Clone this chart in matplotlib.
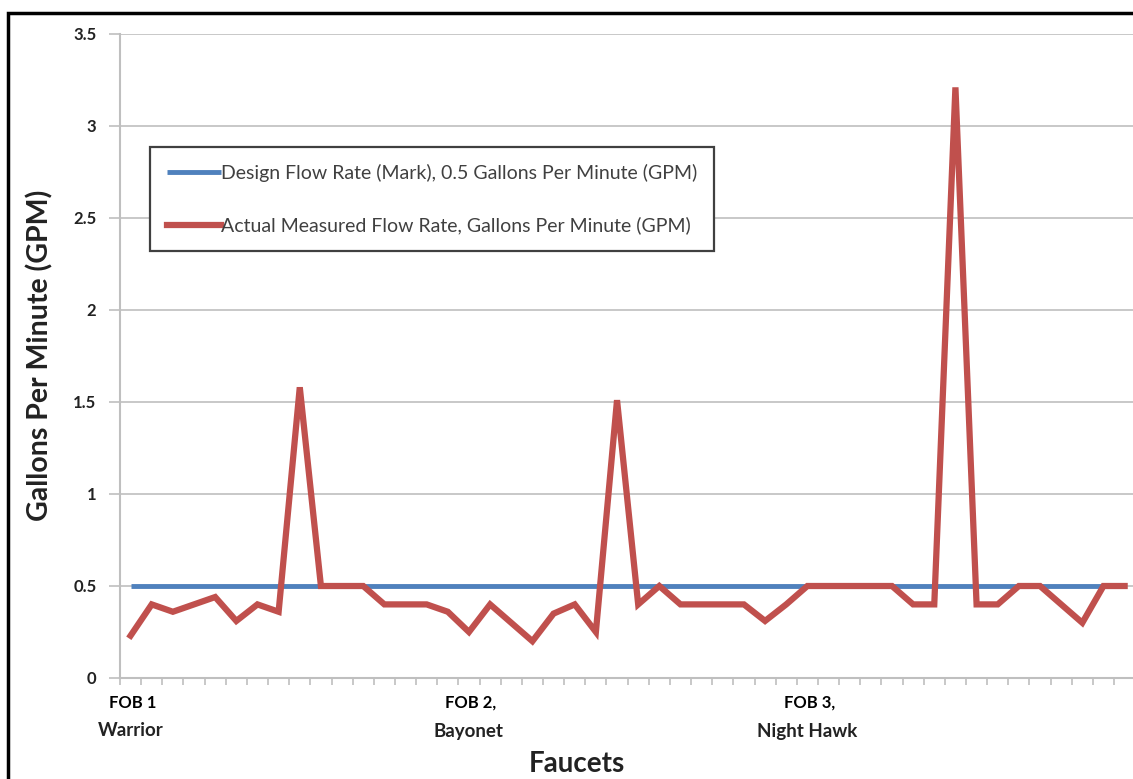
import matplotlib.pyplot as plt
from matplotlib.patches import Rectangle
from matplotlib.ticker import FixedLocator
import matplotlib.transforms as mtransforms

plt.rcParams['font.family'] = ['Lato', 'DejaVu Sans']

# measured flow rate per faucet (GPM), in order along the axis
measured = [0.23, 0.40, 0.36, 0.40, 0.44, 0.31, 0.40, 0.36, 1.58, 0.50,
            0.50, 0.50, 0.40, 0.40, 0.40, 0.36, 0.25, 0.40, 0.30, 0.20,
            0.35, 0.40, 0.25, 1.51, 0.40, 0.50, 0.40, 0.40, 0.40, 0.40,
            0.31, 0.40, 0.50, 0.50, 0.50, 0.50, 0.50, 0.40, 0.40, 3.21,
            0.40, 0.40, 0.50, 0.50, 0.40, 0.30, 0.50, 0.50]
design_rate = 0.5
design = [design_rate] * len(measured)

site_pos = [0, 16, 32]
site_codes = ["FOB 1", "FOB 2,", "FOB 3,"]
site_names = ["Warrior", "Bayonet", "Night Hawk"]

y_ticks = [0, 0.5, 1, 1.5, 2, 2.5, 3, 3.5]
y_labels = ["0", "0.5", "1", "1.5", "2", "2.5", "3", "3.5"]

blue = "#4f81bd"
red = "#c0504d"
grey = "#bfbfbf"

fig = plt.figure(figsize=(11.33, 7.79), dpi=100)
W, H = 1133, 779
ax = fig.add_axes([120 / W, 1 - 678 / H, (W - 120) / W, (678 - 34) / H])

x = list(range(len(measured)))
ax.plot(x, design, color=blue, lw=3.5, solid_capstyle="butt",
        label="Design Flow Rate (Mark), 0.5 Gallons Per Minute (GPM)", zorder=3)
ax.plot(x, measured, color=red, lw=4.5, solid_joinstyle="miter",
        label="Actual Measured Flow Rate, Gallons Per Minute (GPM)", zorder=4)

ax.set_ylim(0, 3.5)
ax.set_xlim(-0.5, -0.5 + (W - 120) / 21.15)
ax.set_yticks(y_ticks)
ax.set_yticklabels(y_labels, fontweight="bold", fontsize=12, color="#222222")
ax.grid(axis="y", color=grey, lw=1.2, zorder=0)
ax.tick_params(axis="y", direction="out", length=8, color=grey, width=1.2, pad=9)

# site names under the axis, two lines each
ax.set_xticks([])
ax.xaxis.set_minor_locator(FixedLocator([i - 0.5 for i in range(len(measured) + 1)]))
ax.tick_params(axis="x", which="minor", direction="out", length=5, color=grey, width=1.2)
trans = mtransforms.blended_transform_factory(ax.transData, fig.transFigure)
for pos, code, name in zip(site_pos, site_codes, site_names):
    ax.text(pos + 0.1, 1 - 703 / H, code, transform=trans, ha="center",
            va="center", fontsize=12, fontweight="bold")
    ax.text(pos, 1 - 731 / H, name, transform=trans, ha="center",
            va="center", fontsize=13.5, fontweight="bold", color="#222222")

for side in ("top", "right"):
    ax.spines[side].set_visible(False)
for side in ("left", "bottom"):
    ax.spines[side].set_color(grey)
    ax.spines[side].set_linewidth(1.5)

fig.text(40 / W, 1 - 355 / H, "Gallons Per Minute (GPM)", rotation=90,
         ha="center", va="center", fontsize=20.5, fontweight="bold",
         color="#222222")
fig.text(577 / W, 1 - 764 / H, "Faucets", ha="center", va="center",
         fontsize=20, fontweight="bold", color="#222222")

leg = ax.legend(loc="upper left", bbox_to_anchor=(150 / W, 1 - 147 / H),
                bbox_transform=fig.transFigure, fancybox=False,
                edgecolor="#404040", framealpha=1, fontsize=14,
                handlelength=2.8, handletextpad=0.0, labelspacing=1.8,
                borderpad=0.85, borderaxespad=0)
leg.get_frame().set_linewidth(1.6)
for t in leg.get_texts():
    t.set_color("#404040")

# outer frame around the figure
fig.patches.append(Rectangle((8 / W, -0.05), 1.1, 1 - 13 / H + 0.05,
                             transform=fig.transFigure, fill=False,
                             edgecolor="black", lw=2.5))

fig.savefig("out.png", dpi=100)
